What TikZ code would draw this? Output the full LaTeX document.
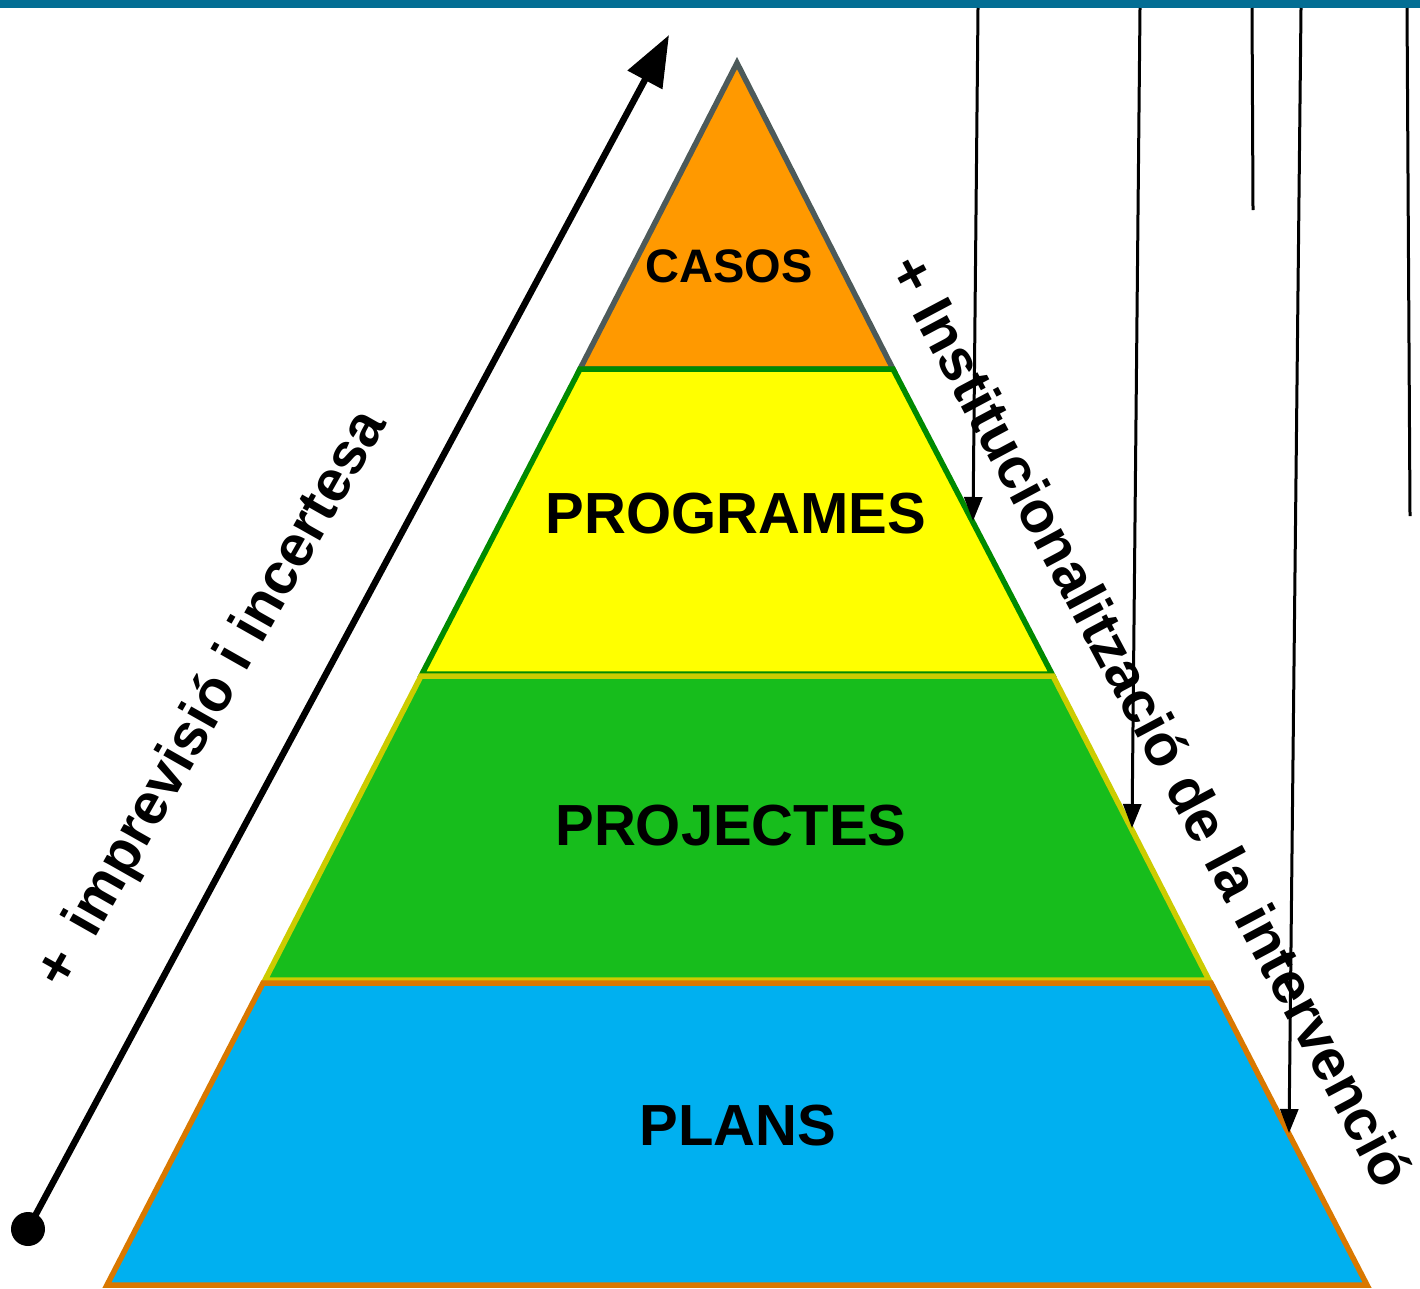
\documentclass[tikz,border=0pt]{standalone}
\usepackage{fontspec}
\setmainfont{Liberation Sans}
\usetikzlibrary{arrows.meta}
\definecolor{barblue}{HTML}{036E94}
\definecolor{casfill}{HTML}{FF9900}
\definecolor{casline}{HTML}{4D5A5A}
\definecolor{progfill}{HTML}{FFFF00}
\definecolor{progline}{HTML}{008A00}
\definecolor{projfill}{HTML}{17BD1C}
\definecolor{projline}{HTML}{CCCC00}
\definecolor{planfill}{HTML}{00B0F0}
\definecolor{planline}{HTML}{D97800}
\tikzset{
  layer/.style={line width=5.5pt, line join=miter},
  lbl/.style={font=\bfseries\fontsize{58}{58}\selectfont, inner sep=0pt},
  side/.style={font=\bfseries\fontsize{58}{58}\selectfont, inner sep=0pt},
  drop/.style={line width=3pt, -{Triangle[length=24pt,width=18pt]}},
  dropplain/.style={line width=3pt},
}
\begin{document}
\begin{tikzpicture}[x=1pt,y=-1pt]
\useasboundingbox (0,0) rectangle (1420,1288);
\fill[barblue] (0,0) rectangle (1420,8);
% pyramid layers
\draw[layer, fill=casfill, draw=casline] (737,63) -- (893,369) -- (580,369) -- cycle;
\draw[layer, fill=progfill, draw=progline] (580,369) -- (893,369) -- (1052,674) -- (422,674) -- cycle;
\draw[layer, fill=projfill, draw=projline] (421,676) -- (1053,676) -- (1209,980) -- (265,980) -- cycle;
\draw[layer, fill=planfill, draw=planline] (263,983) -- (1211,983) -- (1367,1285) -- (107,1285) -- cycle;
% labels
\node[inner sep=0pt, font=\bfseries\fontsize{47}{47}\selectfont] (casos) at (729,266) {CASOS};
\node[lbl] (programes) at (736,514) {PROGRAMES};
\node[lbl] (projectes) at (731,826) {PROJECTES};
\node[lbl] (plans) at (738,1126) {PLANS};
% left arrow
\coordinate (a0) at (28,1229);
\coordinate (a1) at (669,35);
\fill (a0) circle (17);
\draw[line width=6.5pt, -{Triangle[length=51pt,width=38pt]}] (a0) -- (a1);
\node[side, rotate=60.5] (imprev) at (213,700) {+\, imprevisió i incertesa};
% right text
\node[side, rotate=-62] (instit) at (1152,720) {+ Institucionalització de la intervenció};
% vertical lines
\coordinate (t1) at (978,8);   \coordinate (e1) at (973,521);
\coordinate (t2) at (1140,8);  \coordinate (e2) at (1132,828);
\coordinate (t3) at (1252,8);  \coordinate (e3) at (1253,210);
\coordinate (t4) at (1301,8);  \coordinate (e4) at (1289,1133);
\coordinate (t5) at (1407,8);  \coordinate (e5) at (1410,516);
\draw[drop] (t1) -- (e1);
\draw[drop] (t2) -- (e2);
\draw[dropplain] (t3) -- (e3);
\draw[drop] (t4) -- (e4);
\draw[dropplain] (t5) -- (e5);
\end{tikzpicture}
\end{document}
